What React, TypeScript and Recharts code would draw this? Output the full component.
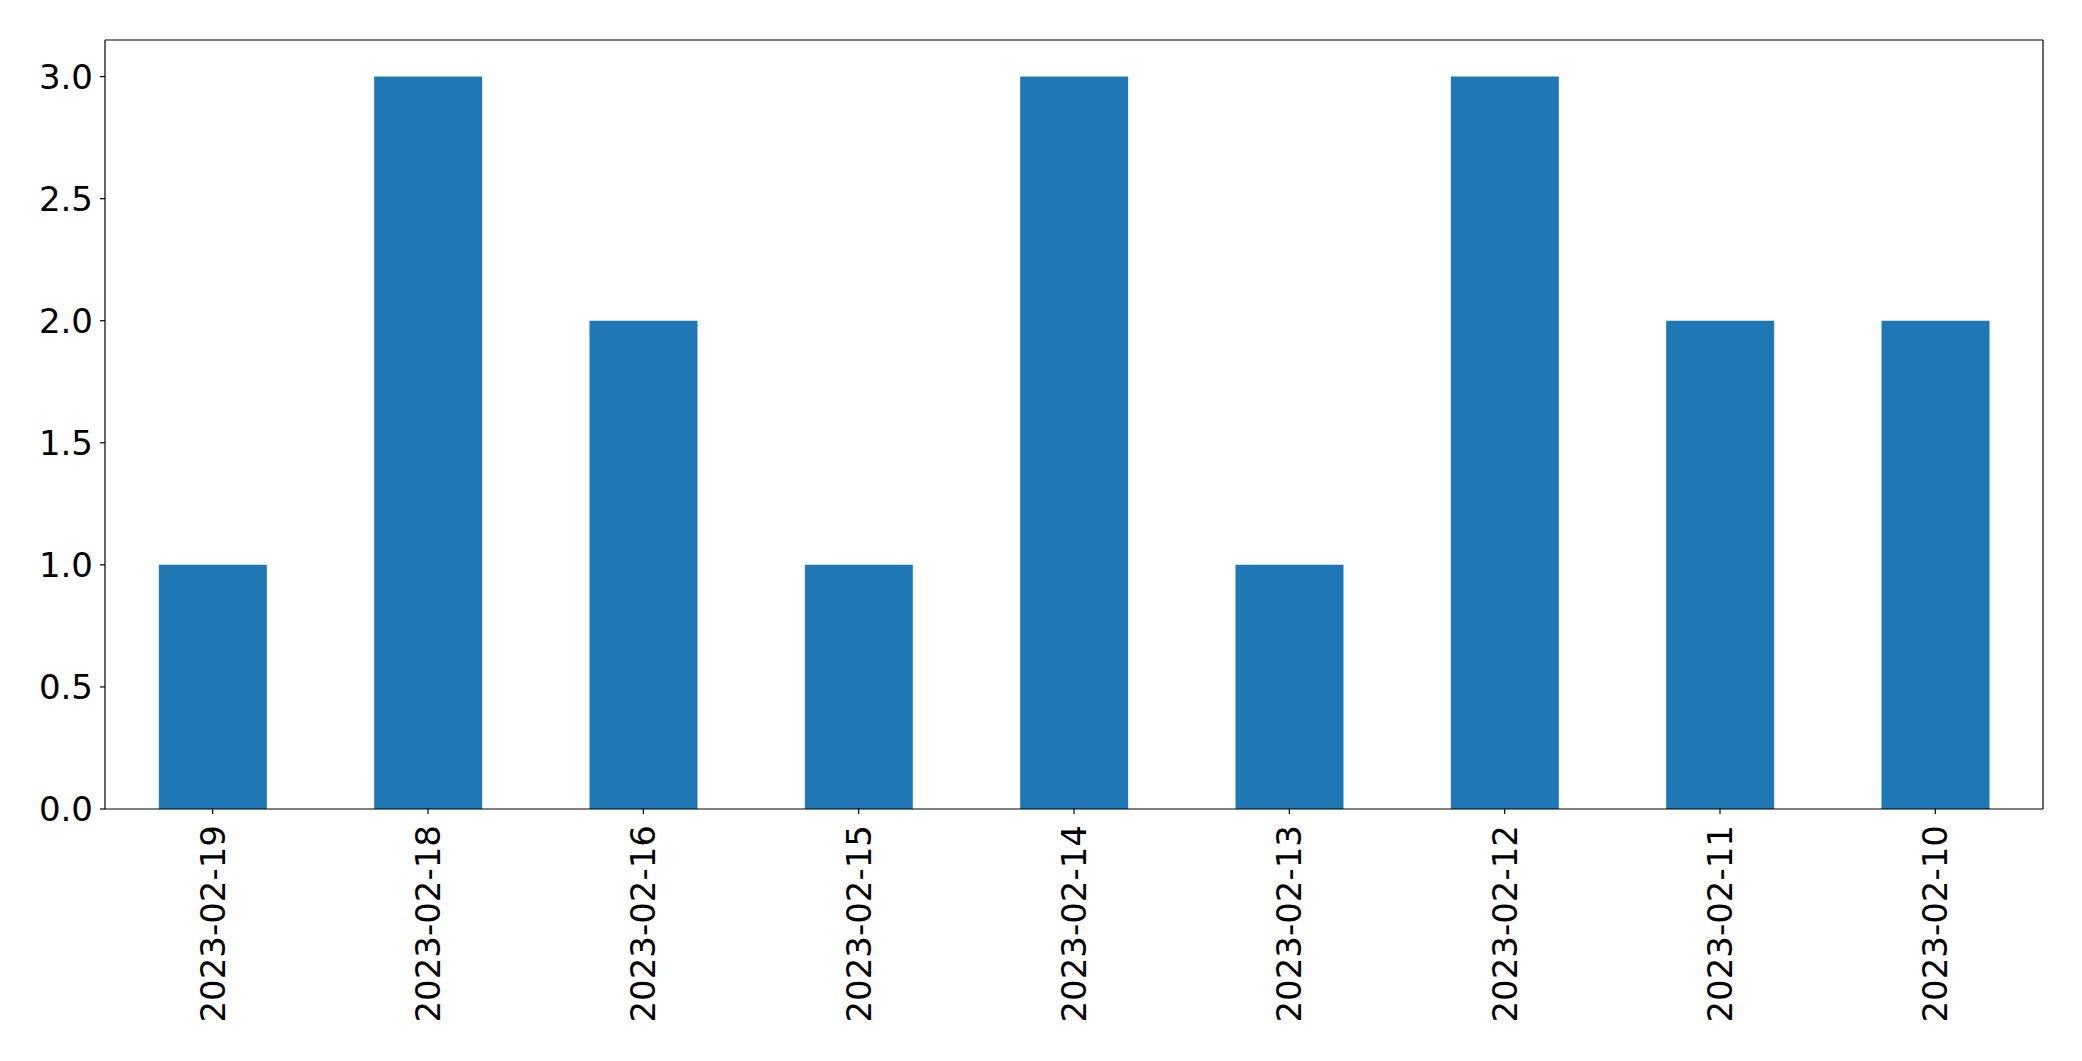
import React from 'react';
import { BarChart, Bar, XAxis, YAxis } from 'recharts';

const dates = [
  '2023-02-19', '2023-02-18', '2023-02-16', '2023-02-15', '2023-02-14',
  '2023-02-13', '2023-02-12', '2023-02-11', '2023-02-10',
];
const counts = [1, 3, 2, 1, 3, 1, 3, 2, 2];
const yTicks = [0, 0.5, 1, 1.5, 2, 2.5, 3];

const data = dates.map((date, i) => ({ date, count: counts[i] }));

const FONT = '"DejaVu Sans", sans-serif';
const DOMAIN: [number, number] = [0, 3.15];

// rotated date labels, read bottom to top like matplotlib rotation=90
const DateTick = (props: any) => {
  const { x, y, payload } = props;
  return (
    <g transform={`translate(${x},${y})`}>
      <text
        transform="rotate(-90)"
        x={0}
        y={0}
        textAnchor="end"
        dominantBaseline="central"
        fontSize={34}
        fontFamily={FONT}
        fill="#000"
      >
        {payload.value}
      </text>
    </g>
  );
};

const ValueTick = (props: any) => {
  const { x, y, payload } = props;
  return (
    <text x={x} y={y} textAnchor="end" dominantBaseline="central" fontSize={34} fontFamily={FONT} fill="#000">
      {Number(payload.value).toFixed(1)}
    </text>
  );
};

export default function App() {
  return (
    <div style={{ position: 'fixed', left: 0, top: 0, background: '#fff' }}>
      <BarChart
        width={2082}
        height={1061}
        data={data}
        margin={{ top: 39, right: 38, left: 0, bottom: 0 }}
        barCategoryGap="25%"
      >
        <XAxis
          xAxisId="main"
          dataKey="date"
          height={252}
          tick={<DateTick />}
          tickSize={5}
          tickMargin={11}
          interval={0}
          axisLine={{ stroke: '#000', strokeWidth: 1.2 }}
          tickLine={{ stroke: '#000', strokeWidth: 1.2 }}
        />
        <XAxis
          xAxisId="top"
          orientation="top"
          dataKey="date"
          height={1}
          tick={false}
          tickLine={false}
          axisLine={{ stroke: '#000', strokeWidth: 1.2 }}
        />
        <YAxis
          yAxisId="main"
          width={105}
          domain={DOMAIN}
          ticks={yTicks}
          tick={<ValueTick />}
          tickSize={5}
          tickMargin={7}
          axisLine={{ stroke: '#000', strokeWidth: 1.2 }}
          tickLine={{ stroke: '#000', strokeWidth: 1.2 }}
        />
        <YAxis
          yAxisId="right"
          orientation="right"
          width={1}
          domain={DOMAIN}
          tick={false}
          tickLine={false}
          axisLine={{ stroke: '#000', strokeWidth: 1.2 }}
        />
        <Bar xAxisId="main" yAxisId="main" dataKey="count" fill="#1f77b4" isAnimationActive={false} />
      </BarChart>
    </div>
  );
}
